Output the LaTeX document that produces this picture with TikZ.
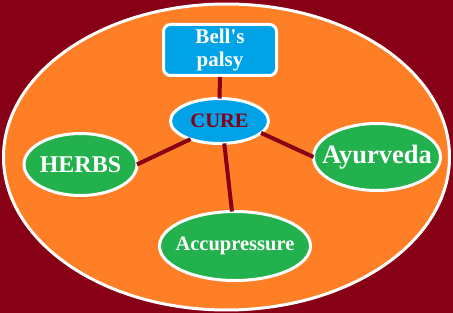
\documentclass[tikz,border=0pt]{standalone}
\usepackage{fontspec}
\setmainfont{Liberation Serif}[Ligatures=TeXOff]
\usetikzlibrary{shapes.geometric}
\definecolor{bgred}{HTML}{880015}
\definecolor{orng}{HTML}{FF7F27}
\definecolor{grn}{HTML}{22B14C}
\definecolor{blu}{HTML}{00A2E8}
\begin{document}
\begin{tikzpicture}[x=1pt,y=-1pt,
  oval/.style={ellipse,draw=white,line width=3pt,fill=grn,inner sep=0pt,outer sep=0pt},
  txt/.style={text=white,font=\bfseries\fontsize{#1}{#1}\selectfont,inner sep=0pt},
  link/.style={draw=bgred,line width=4pt}]
\fill[bgred] (0,0) rectangle (453,313);
\useasboundingbox (0,0) rectangle (453,313);
\draw[white,line width=3pt,fill=orng] (226.5,157) ellipse [x radius=223, y radius=153];
\node[draw=white,line width=3pt,fill=blu,rounded corners=7pt,minimum width=113pt,minimum height=51pt,
  text=white,font=\bfseries\fontsize{21}{23}\selectfont,align=center,inner sep=0pt] (bell) at (220,50) {Bell's\\palsy};
\node[oval,fill=blu,minimum width=98pt,minimum height=45pt,
  label={[txt=20.5,text=bgred]center:CURE}] (cure) at (219.5,121) {};
\node[oval,minimum width=113pt,minimum height=62pt,
  label={[txt=24]center:HERBS}] (herbs) at (80.5,164.5) {};
\node[oval,minimum width=127pt,minimum height=67pt,
  label={[txt=26.5]center:Ayurveda}] (ayur) at (377,157) {};
\node[oval,minimum width=151pt,minimum height=69pt,
  label={[txt=20.5]center:Accupressure}] (acc) at (235,246) {};
\draw[link] (bell.south) -- (cure.north);
\draw[link] (herbs.east) -- (cure.212);
\draw[link] (cure.-16) -- (ayur.west);
\draw[link] (cure.-78) -- (acc.95);
\end{tikzpicture}
\end{document}
